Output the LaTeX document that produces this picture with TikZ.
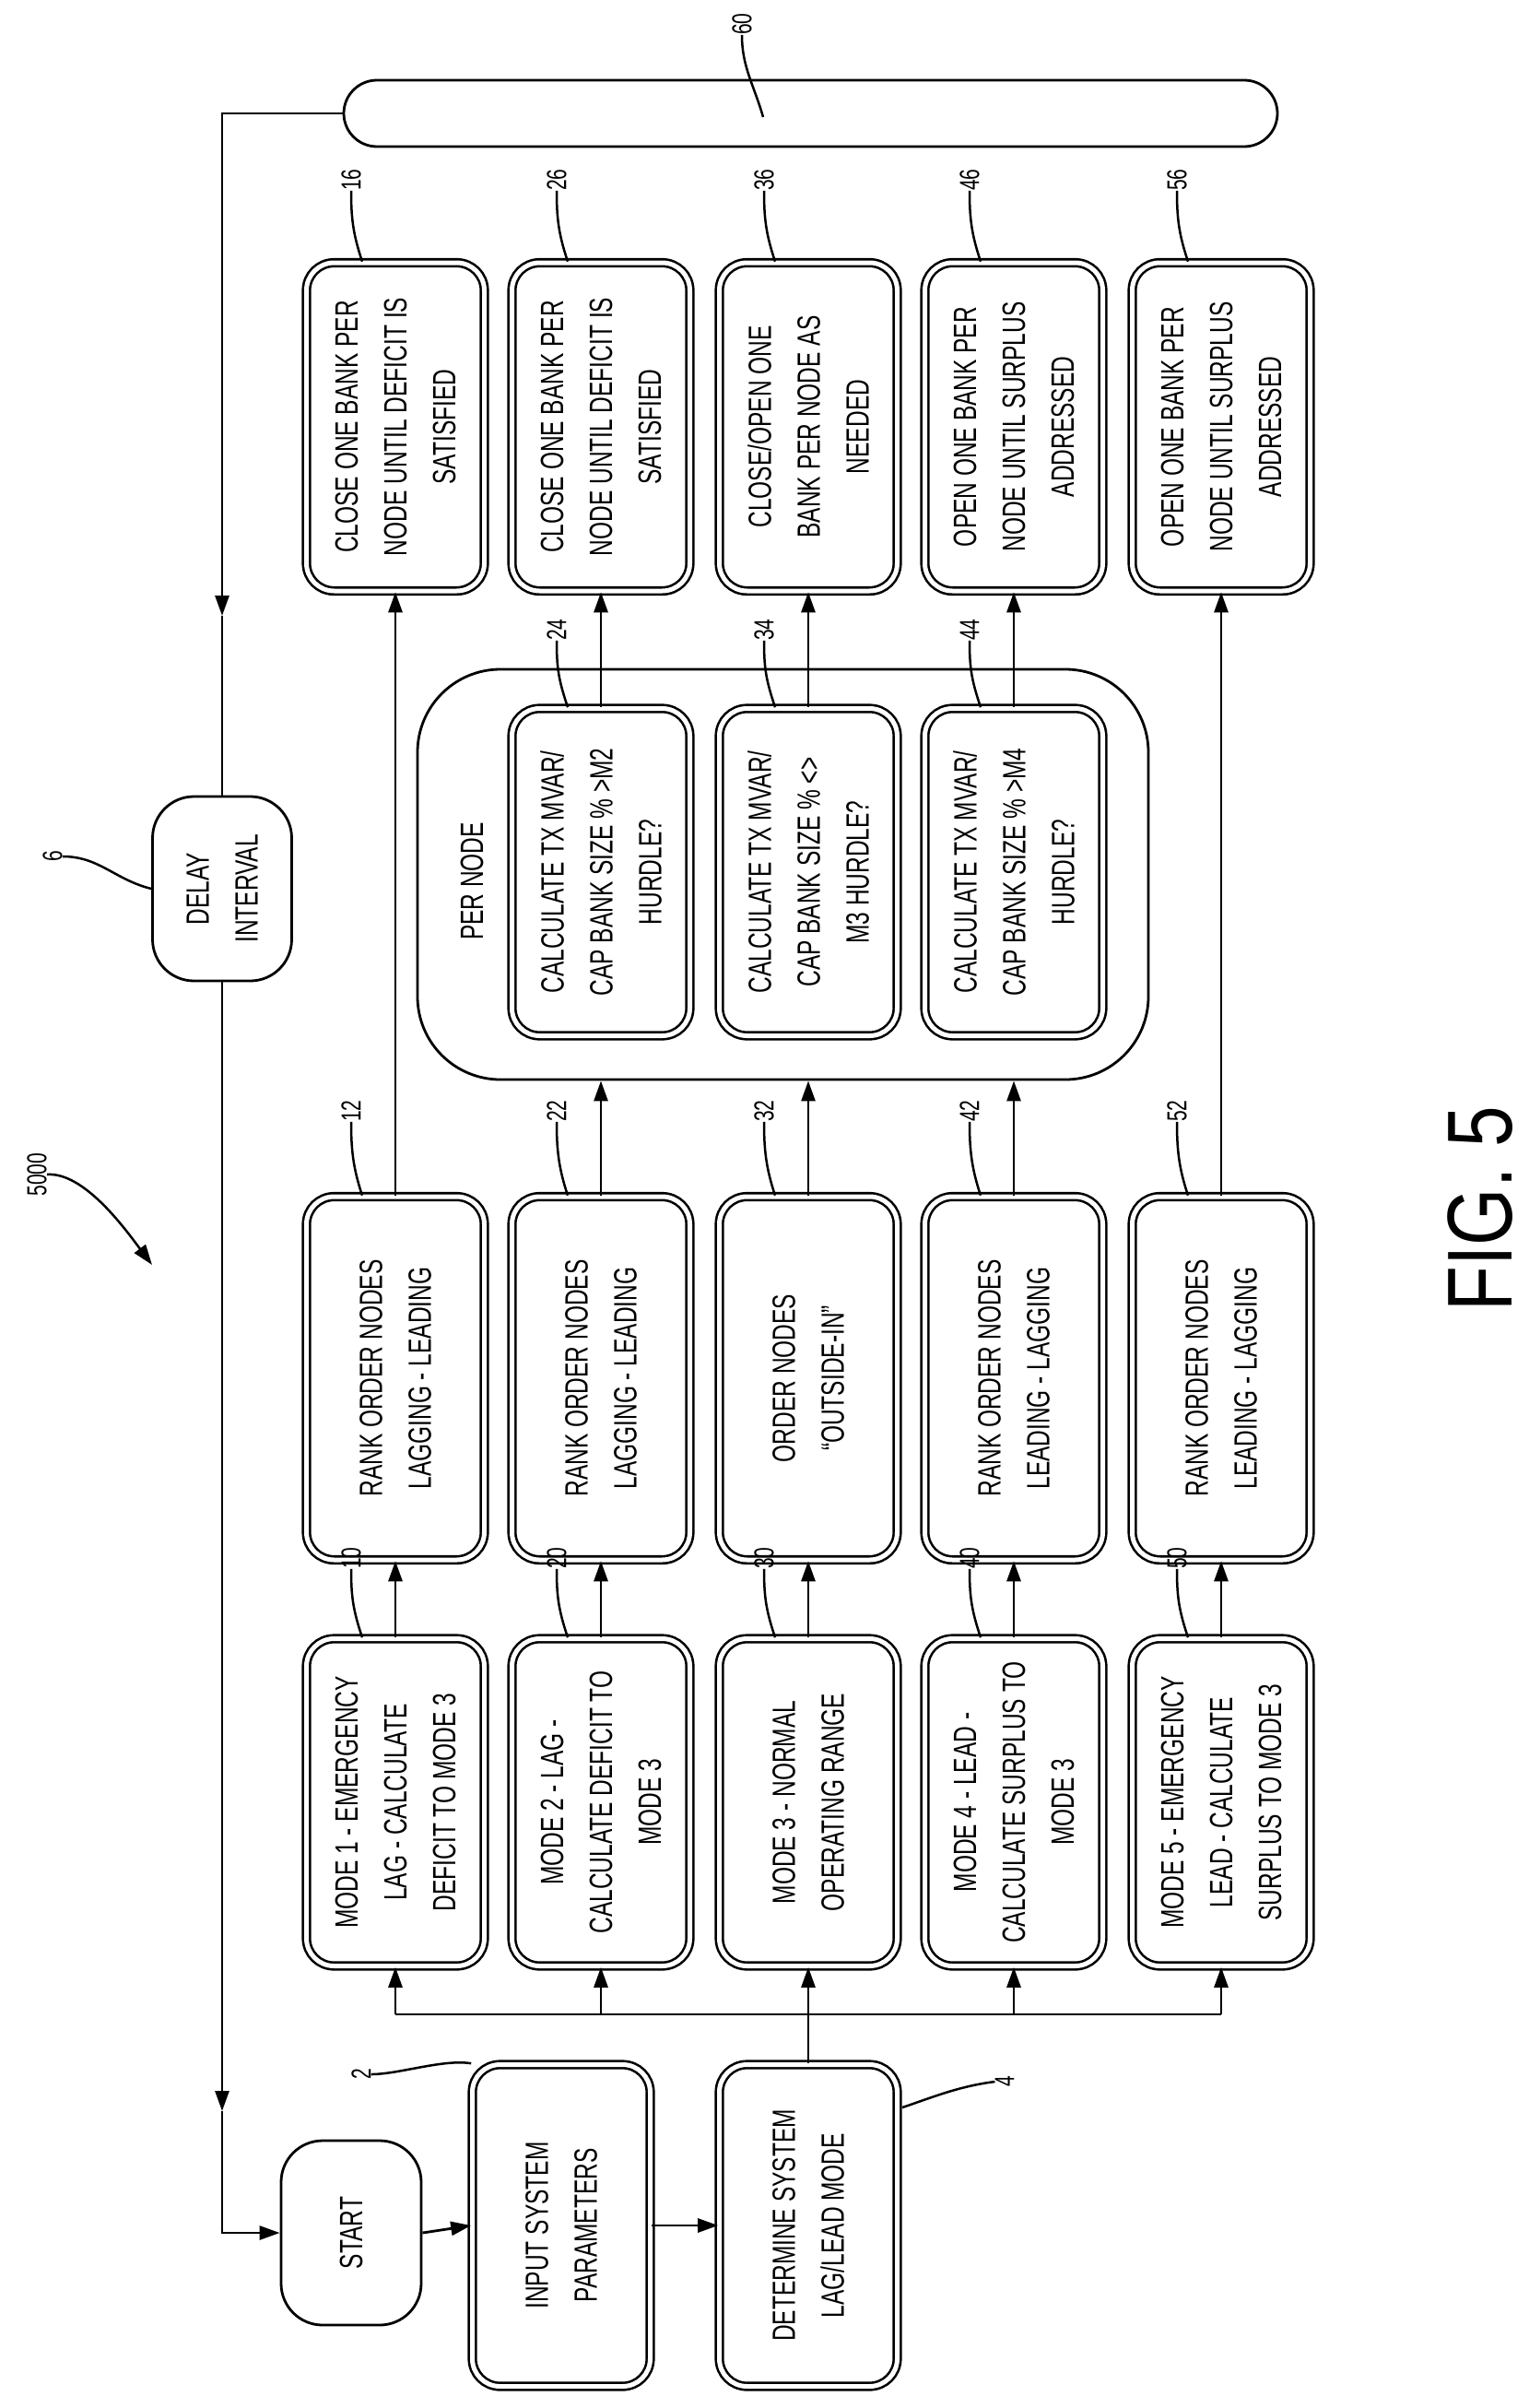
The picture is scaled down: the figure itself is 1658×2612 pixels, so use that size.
\documentclass[tikz,border=0pt]{standalone}
\usepackage{fontspec}
\setmainfont{Liberation Sans}[FakeStretch=0.7]
\newfontfamily\figfont{Liberation Sans}[FakeStretch=0.8]
\usetikzlibrary{arrows.meta,calc}
\begin{document}
\begin{tikzpicture}[x=1pt,y=-1pt,
  every node/.style={font=\fontsize{35}{53}\selectfont, align=center, inner sep=0pt},
  dbox/.style={draw, rotate=90, double, double distance=5pt, line width=2.6pt, rounded corners=30pt, minimum height=193pt},
  sbox/.style={draw, rotate=90, line width=2.8pt, rounded corners=45pt},
  lab/.style={rotate=90, font=\fontsize{30}{30}\selectfont},
  ln/.style={line width=2.8pt},
  arr/.style={line width=2.8pt, -{Triangle[length=22pt,width=15pt]}},
  lead/.style={line width=2.5pt}]
\useasboundingbox (0,0) rectangle (1658,2612);
% bus 60
\node[draw, line width=2.8pt, rounded corners=36pt, minimum width=1013pt, minimum height=72pt] (bus) at (879.5,123) {};
% close boxes
\node[dbox, minimum width=356pt] (c1) at (429,463) {CLOSE ONE BANK PER\\NODE UNTIL DEFICIT IS\\SATISFIED};
\node[dbox, minimum width=356pt] (c2) at (652,463) {CLOSE ONE BANK PER\\NODE UNTIL DEFICIT IS\\SATISFIED};
\node[dbox, minimum width=356pt] (c3) at (877,463) {CLOSE/OPEN ONE\\BANK PER NODE AS\\NEEDED};
\node[dbox, minimum width=356pt] (c4) at (1100,463) {OPEN ONE BANK PER\\NODE UNTIL SURPLUS\\ADDRESSED};
\node[dbox, minimum width=356pt] (c5) at (1325,463) {OPEN ONE BANK PER\\NODE UNTIL SURPLUS\\ADDRESSED};
% per node
\node[sbox, rounded corners=90pt, minimum width=445pt, minimum height=793pt] (per) at (849.5,948.5) {};
\node[rotate=90] (pertxt) at (512,956) {PER NODE};
\node[dbox, minimum width=355pt] (k2) at (652,946) {CALCULATE TX MVAR/\\CAP BANK SIZE \% >M2\\HURDLE?};
\node[dbox, minimum width=355pt] (k3) at (877,946) {CALCULATE TX MVAR/\\CAP BANK SIZE \% <>\\M3 HURDLE?};
\node[dbox, minimum width=355pt] (k4) at (1100,946) {CALCULATE TX MVAR/\\CAP BANK SIZE \% >M4\\HURDLE?};
% rank boxes
\node[dbox, minimum width=394pt] (r1) at (429,1495) {RANK ORDER NODES\\LAGGING - LEADING};
\node[dbox, minimum width=394pt] (r2) at (652,1495) {RANK ORDER NODES\\LAGGING - LEADING};
\node[dbox, minimum width=394pt] (r3) at (877,1495) {ORDER NODES\\“OUTSIDE-IN”};
\node[dbox, minimum width=394pt] (r4) at (1100,1495) {RANK ORDER NODES\\LEADING - LAGGING};
\node[dbox, minimum width=394pt] (r5) at (1325,1495) {RANK ORDER NODES\\LEADING - LAGGING};
% mode boxes
\node[dbox, minimum width=355pt] (m1) at (429,1955) {MODE 1 - EMERGENCY\\LAG - CALCULATE\\DEFICIT TO MODE 3};
\node[dbox, minimum width=355pt] (m2) at (652,1955) {MODE 2 - LAG -\\CALCULATE DEFICIT TO\\MODE 3};
\node[dbox, minimum width=355pt] (m3) at (877,1955) {MODE 3 - NORMAL\\OPERATING RANGE};
\node[dbox, minimum width=355pt] (m4) at (1100,1955) {MODE 4 - LEAD -\\CALCULATE SURPLUS TO\\MODE 3};
\node[dbox, minimum width=355pt] (m5) at (1325,1955) {MODE 5 - EMERGENCY\\LEAD - CALCULATE\\SURPLUS TO MODE 3};
% input / determine / start / delay
\node[dbox, minimum width=349pt] (inp) at (609,2414) {INPUT SYSTEM\\PARAMETERS};
\node[dbox, minimum width=349pt] (det) at (877,2414) {DETERMINE SYSTEM\\LAG/LEAD MODE};
\node[sbox, minimum width=200pt, minimum height=152pt] (start) at (381,2422) {START};
\node[sbox, minimum width=200pt, minimum height=151pt] (dly) at (241,964) {DELAY\\INTERVAL};
% feedback loop
\coordinate (fa) at (241,668);
\coordinate (fb) at (241,2290);
\draw[arr] (bus.west) -| (fa);
\draw[ln] (fa) -- (dly.east);
\draw[arr] (dly.west) -- (fb);
\draw[arr] (fb) |- (start.north);
\draw[arr] (start.south) -- (inp.north);
\draw[arr] (inp.south) -- (det.north);
% split
\coordinate (sp) at (877,2185);
\draw[ln] (det.east) -- (sp);
\draw[ln] (m1.west |- sp) -- (m5.west |- sp);
\foreach \m in {m1,m2,m3,m4,m5} \draw[arr] (\m.west |- sp) -- (\m.west);
% mode -> rank
\foreach \i in {1,...,5} \draw[arr] (m\i.east) -- (r\i.west);
% rank -> close / per node
\draw[arr] (r1.east) -- (c1.west);
\draw[arr] (r5.east) -- (c5.west);
\foreach \i in {2,3,4} {
  \draw[arr] (r\i.east) -- (r\i.east |- per.west);
  \draw[arr] (k\i.east) -- (c\i.west);
}
% close -> bus
\foreach \i in {1,...,5} \draw[ln] ($(c\i.east)+(12,0)$) -- ($(c\i.east)+(12,0)$ |- bus.south);
% reference labels
\foreach \i/\t/\yl/\bx in {1/16/195/c,2/26/195/c,3/36/195/c,4/46/195/c,5/56/195/c,
                          1/12/1205/r,2/22/1205/r,3/32/1205/r,4/42/1205/r,5/52/1205/r,
                          1/10/1690/m,2/20/1690/m,3/30/1690/m,4/40/1690/m,5/50/1690/m,
                          2/24/683/k,3/34/683/k,4/44/683/k} {
  \node[lab] (L\t) at ($(\bx\i.center |- 0,\yl)+(-48,0)$) {\t};
  \draw[lead] (L\t.west) .. controls +(0,30) and +(-10,-30) .. ($(\bx\i.east)+(-36,0)$);
}
\node[lab] (L2) at (392,2250) {2};
\draw[lead] (L2.south) .. controls +(30,0) and +(-30,-5) .. (inp.north east);
\node[lab] (L4) at (1090,2258) {4};
\draw[lead] (L4.north) .. controls +(-40,5) and +(30,-10) .. (979,2286);
\node[lab] (L60) at (805,26) {60};
\draw[lead] (L60.west) .. controls +(0,35) and +(-10,-35) .. (828,127);
\node[lab] (L6) at (57,929) {6};
\draw[lead] (L6.south) .. controls +(40,0) and +(-40,-10) .. (dly.north);
\node[lab] (L5000) at (40,1274) {5000};
\draw[arr, line width=2.5pt] (L5000.south) .. controls +(40,-3) and +(-30,-40) .. (165,1372);
\node[rotate=90, font=\figfont\fontsize{100}{100}\selectfont] (fig) at (1606,1311) {FIG. 5};
\end{tikzpicture}
\end{document}
